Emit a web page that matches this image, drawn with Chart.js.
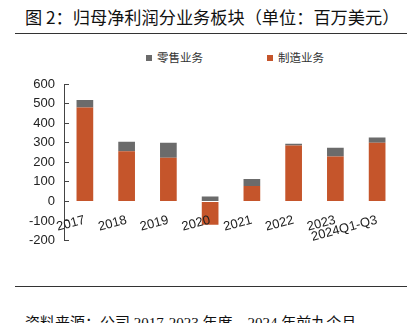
<!DOCTYPE html>
<html>
<head>
<meta charset="utf-8">
<script src="https://cdn.jsdelivr.net/npm/chart.js@4/dist/chart.umd.min.js"></script>
<style>
  html, body { margin: 0; padding: 0; background: #fff; }
  body { width: 419px; height: 323px; position: relative; overflow: hidden; }
  .title { position: absolute; left: 25px; top: 4px; font: 17.2px "Noto Sans CJK SC", sans-serif; color: #111; white-space: nowrap; }
  .rule { position: absolute; left: 15px; width: 392px; height: 1px; background: #333; }
  .legend { position: absolute; top: 49px; left: 0; width: 419px; font: 11.5px "Noto Sans CJK SC", serif; color: #333; }
  .legend span { position: absolute; white-space: nowrap; }
  .legend i { display: inline-block; width: 6px; height: 6px; margin-right: 5px; vertical-align: 1px; }
  .source { position: absolute; left: 25px; top: 311px; font: 15px "Liberation Serif", "Noto Sans CJK SC", serif; color: #111; white-space: nowrap; }
  #wrap { position: absolute; left: 0; top: 70px; width: 419px; height: 190px; }
</style>
</head>
<body>
<div class="title">图 2：归母净利润分业务板块（单位：百万美元）</div>
<div class="rule" style="top:33px"></div>
<div class="legend" id="legend"></div>
<div id="wrap"><canvas id="chart"></canvas></div>
<div class="rule" style="top:286px"></div>
<div class="source">资料来源：公司 2017-2023 年度、2024 年前九个月</div>

<script>
// ---- data (百万美元) ----
const categories    = ['2017', '2018', '2019', '2020', '2021', '2022', '2023', '2024Q1-Q3'];
const manufacturing = [480, 256, 223, -119, 79, 286, 230, 300];   // 制造业务
const retail        = [38, 49, 77, 25, 35, 9, 44, 27];             // 零售业务
const yTicks        = [-200, -100, 0, 100, 200, 300, 400, 500, 600];

const ORANGE = '#c5552b';
const GRAY   = '#6b6b6b';

// legend as plain html (wide gap between items)
const legendItems = [
  { label: '零售业务', color: GRAY,   x: 146 },
  { label: '制造业务', color: ORANGE, x: 267 }
];
const legendEl = document.getElementById('legend');
legendItems.forEach(function(it) {
  const s = document.createElement('span');
  s.style.left = it.x + 'px';
  s.innerHTML = '<i style="background:' + it.color + '"></i>' + it.label;
  legendEl.appendChild(s);
});

const tickFont = { family: 'Liberation Sans, Arial, sans-serif', size: 13 };

new Chart(document.getElementById('chart'), {
  type: 'bar',
  data: {
    labels: categories,
    datasets: [
      { label: '制造业务', data: manufacturing, backgroundColor: ORANGE, barPercentage: 0.4, categoryPercentage: 1 },
      { label: '零售业务', data: retail,        backgroundColor: GRAY,   barPercentage: 0.4, categoryPercentage: 1 }
    ]
  },
  options: {
    responsive: true,
    maintainAspectRatio: false,
    animation: false,
    layout: { padding: { left: 0, right: 21, top: 14, bottom: 19.5 } },
    plugins: {
      legend: { display: false },
      tooltip: { enabled: false }
    },
    scales: {
      x: {
        stacked: true,
        position: { y: 0 },
        grid: { display: false },
        border: { display: false },
        ticks: {
          z: 1,   // labels drawn over the bars (2020)
          color: '#222', font: tickFont, autoSkip: false,
          minRotation: 15, maxRotation: 15, padding: 3
        }
      },
      y: {
        stacked: true,
        min: -200, max: 600,
        afterBuildTicks: function(s) { s.ticks = yTicks.map(function(v) { return { value: v }; }); },
        afterFit: function(s) { s.width = 64; s.paddingTop = 0; s.paddingBottom = 0; },
        grid: { drawOnChartArea: false, tickLength: -5, color: '#444' },
        border: { color: '#444' },
        ticks: { color: '#222', font: tickFont, padding: 14 }
      }
    }
  }
});
</script>
</body>
</html>
